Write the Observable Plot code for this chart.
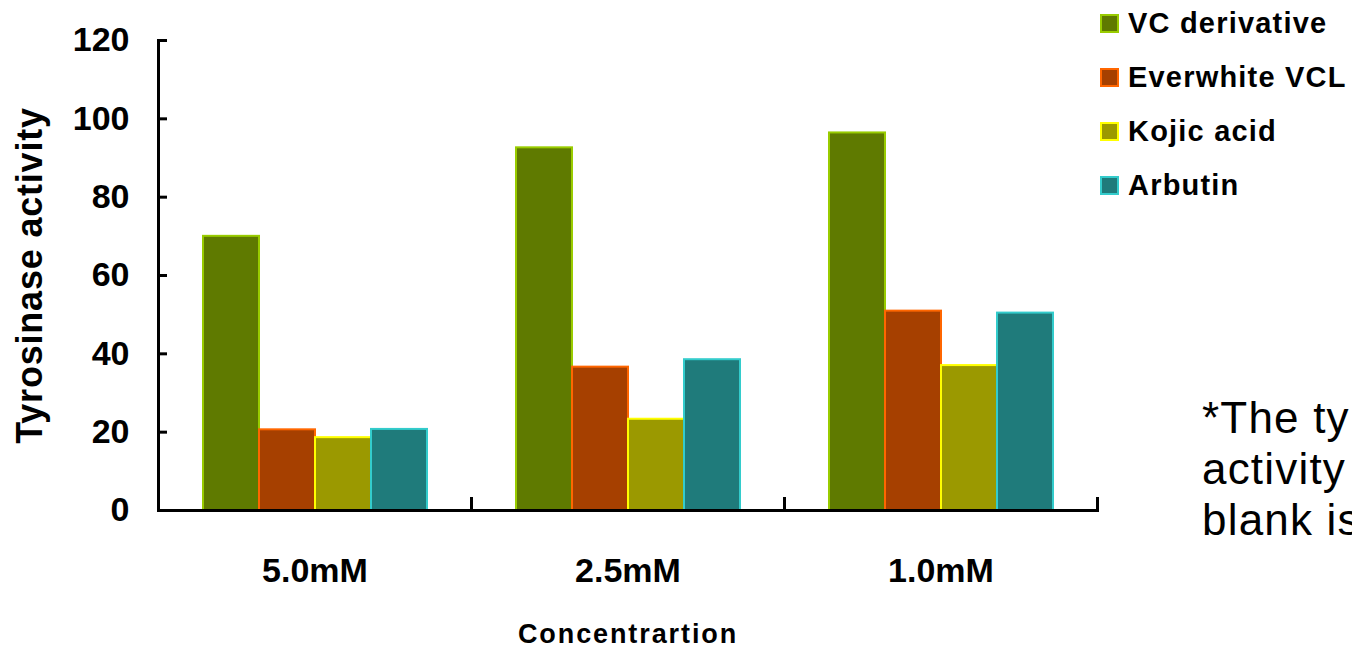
<!DOCTYPE html>
<html>
<head>
<meta charset="utf-8">
<script src="https://cdn.jsdelivr.net/npm/d3@7"></script>
<script src="https://cdn.jsdelivr.net/npm/@observablehq/plot@0.6"></script>
<style>
  html, body { margin: 0; padding: 0; background: #fff; overflow: hidden; }
  #wrap { position: relative; width: 1352px; height: 651px; overflow: hidden; font-family: "Liberation Sans", Arial, sans-serif; }
  #wrap svg [aria-label="fx-axis label"] text { letter-spacing: 1.9px; }
  #wrap svg [aria-label="y-axis label"] text { letter-spacing: 0.8px; }
  #legend { position: absolute; left: 1100px; top: -4px; }
  .lg-row { display: flex; align-items: center; height: 54px; }
  .lg-sw { width: 19px; height: 19px; box-sizing: border-box; border: 2px solid; margin-right: 9px; }
  .lg-tx { font-weight: bold; font-size: 29px; letter-spacing: 1.2px; color: #000; white-space: nowrap; }
  #note { position: absolute; left: 1202px; top: 392px; font-size: 44px; line-height: 51px; letter-spacing: 1.2px; white-space: nowrap; color: #000; }
</style>
</head>
<body>
<div id="wrap"></div>
<script>
// ---- data ----
const concentrations = ["5.0mM", "2.5mM", "1.0mM"];
const seriesNames = ["VC derivative", "Everwhite VCL", "Kojic acid", "Arbutin"];
const vcDerivative = [70.0, 92.6, 96.4];
const everwhiteVCL = [20.6, 36.6, 50.9];
const kojicAcid    = [18.6, 23.3, 37.0];
const arbutin      = [20.7, 38.5, 50.4];
const yTicks = [0, 20, 40, 60, 80, 100, 120];
const fillColors   = ["#5f7a00", "#a64000", "#9b9900", "#1f7b7b"];
const strokeColors = ["#99cc00", "#ff6600", "#ffff00", "#33cccc"];
const noteLines = ["*The tyrosinase", "activity of the", "blank is 100%"];

const seriesValues = [vcDerivative, everwhiteVCL, kojicAcid, arbutin];
const data = concentrations.flatMap((c, i) =>
  seriesNames.map((s, j) => ({ conc: c, series: s, value: seriesValues[j][i] }))
);
const fillOf = d => fillColors[seriesNames.indexOf(d.series)];
const strokeOf = d => strokeColors[seriesNames.indexOf(d.series)];

const chart = Plot.plot({
  width: 1352,
  height: 651,
  marginLeft: 157,
  marginRight: 255,
  marginTop: 40,
  marginBottom: 141,
  style: { fontFamily: "'Liberation Sans', Arial, sans-serif", color: "#000", background: "transparent" },
  fx: { domain: concentrations, padding: 0, label: "Concentrartion" },
  x: { domain: seriesNames, paddingInner: 0, paddingOuter: 0.75, axis: null },
  y: { domain: [0, 120] },
  marks: [
    Plot.barY(data, { fx: "conc", x: "series", y: "value", fill: fillOf, stroke: strokeOf, strokeWidth: 2 }),
    Plot.ruleY([0], { stroke: "#000", strokeWidth: 3 }),
    Plot.frame({ anchor: "left", facetAnchor: "left", stroke: "#000", strokeWidth: 3 }),
    Plot.frame({ anchor: "right", stroke: "#000", strokeWidth: 3, insetTop: 458 }),
    Plot.axisY({
      ticks: yTicks, tickSize: -9, tickPadding: 38, strokeWidth: 3,
      fontSize: 34, fontWeight: "bold",
      label: null
    }),
    Plot.axisY({
      ticks: [], tickSize: 0, fontSize: 36, fontWeight: "bold",
      label: "Tyrosinase activity", labelAnchor: "center", labelArrow: "none", labelOffset: 142
    }),
    Plot.axisFx({ anchor: "bottom", tickSize: 0, tickPadding: 47, fontSize: 34, fontWeight: "bold", label: null }),
    Plot.axisFx({ anchor: "bottom", ticks: [], tickSize: 0, fontSize: 27, fontWeight: "bold",
      label: "Concentrartion", labelAnchor: "center", labelArrow: "none", labelOffset: 132 })
  ]
});

const wrap = document.getElementById("wrap");
wrap.appendChild(chart);

// legend
const legend = document.createElement("div");
legend.id = "legend";
seriesNames.forEach((s, j) => {
  const row = document.createElement("div");
  row.className = "lg-row";
  const sw = document.createElement("div");
  sw.className = "lg-sw";
  sw.style.background = fillColors[j];
  sw.style.borderColor = strokeColors[j];
  const tx = document.createElement("span");
  tx.className = "lg-tx";
  tx.textContent = s;
  row.appendChild(sw); row.appendChild(tx);
  legend.appendChild(row);
});
wrap.appendChild(legend);

// note
const note = document.createElement("div");
note.id = "note";
noteLines.forEach(t => { const d = document.createElement("div"); d.textContent = t; note.appendChild(d); });
wrap.appendChild(note);
</script>
</body>
</html>
